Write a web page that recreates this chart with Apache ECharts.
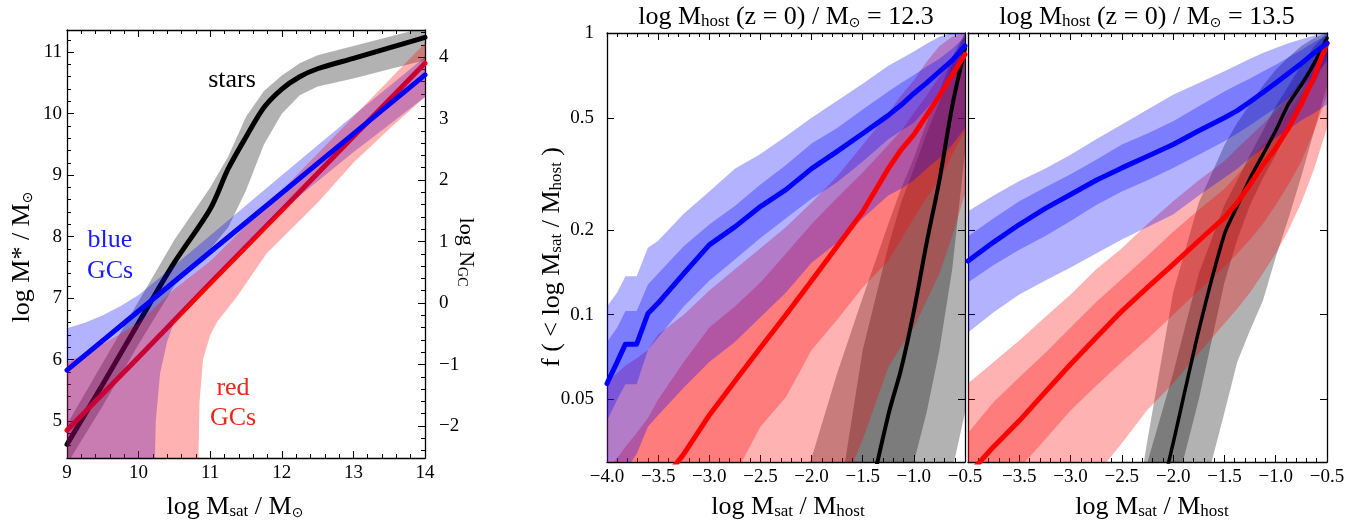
<!DOCTYPE html>
<html>
<head>
<meta charset="utf-8">
<script src="https://cdn.jsdelivr.net/npm/echarts@6.0.0/dist/echarts.min.js"></script>
<style>
html, body { margin: 0; padding: 0; background: #fff; }
#chart { width: 1364px; height: 524px; }
</style>
</head>
<body>
<div id="chart"></div>
<script>
// ---------- left panel : log M* (and log N_GC) vs log Msat ----------
const leftXTicks = [9, 10, 11, 12, 13, 14];
const mStarTicks = [5, 6, 7, 8, 9, 10, 11];
const nGcTicks = [-2, -1, 0, 1, 2, 3, 4];

const starsX   = [9, 9.5, 10, 10.5, 11, 11.25, 11.5, 11.75, 12, 12.25, 12.5, 13, 13.5, 14];
const starsMid = [4.62, 5.6, 6.6, 7.58, 8.45, 9.1, 9.62, 10.1, 10.4, 10.6, 10.73, 10.9, 11.07, 11.24];
const starsHi  = [4.95, 5.95, 6.95, 7.95, 8.8, 9.3, 9.95, 10.37, 10.62, 10.82, 10.95, 11.1, 11.25, 11.4];
const starsLo  = [4.3, 5.25, 6.25, 7.2, 7.8, 8.15, 8.75, 9.5, 10.0, 10.3, 10.44, 10.57, 10.72, 10.87];

const blueX   = [9, 10, 11, 12, 13, 14];
const blueMid = [5.83, 6.79, 7.75, 8.71, 9.67, 10.63];
const blueHiX = [9, 9.25, 9.5, 9.75, 10, 10.5, 11, 12, 13, 14];
const blueHi  = [6.51, 6.6, 6.72, 6.87, 7.05, 7.53, 8.02, 9.0, 9.97, 10.92];
const blueLoX = [9, 10.22, 10.24, 10.3, 10.4, 10.5, 10.7, 10.86, 11.5, 12, 12.5, 13, 13.5, 14];
const blueLo  = [4.0, 4.0, 5.0, 5.78, 6.3, 6.62, 6.9, 7.1, 7.85, 8.43, 8.9, 9.37, 9.82, 10.27];

const redX   = [9, 10, 11, 12, 13, 14];
const redMid = [4.85, 6.04, 7.24, 8.43, 9.63, 10.82];
const redHiX = [9, 9.5, 10, 10.5, 11, 12, 13, 14];
const redHi  = [5.95, 6.25, 6.6, 7.15, 7.6, 8.75, 9.95, 11.15];
const redLoX = [9, 10.83, 10.85, 10.9, 11.0, 11.1, 11.37, 11.79, 12.5, 13, 13.5, 14];
const redLo  = [4.0, 4.0, 5.3, 6.0, 6.4, 6.62, 7.02, 7.73, 8.55, 9.2, 9.75, 10.27];

// ---------- middle panel : log Mhost = 12.3 ----------
const ratioTicks = [-4.0, -3.5, -3.0, -2.5, -2.0, -1.5, -1.0, -0.5];
const ratioTicksRight = [-3.5, -3.0, -2.5, -2.0, -1.5, -1.0, -0.5];
const fTicks = [0.05, 0.1, 0.2, 0.5, 1];

const xM = [-4.0, -3.9, -3.82, -3.71, -3.6, -3.5, -3.25, -3.0, -2.75, -2.5, -2.25, -2.0, -1.75, -1.5, -1.25, -1.125, -1.0, -0.875, -0.75, -0.625, -0.5];
const blueLineM  = [0.057, 0.068, 0.0786, 0.0786, 0.101, 0.11, 0.14, 0.177, 0.205, 0.242, 0.278, 0.33, 0.38, 0.44, 0.51, 0.555, 0.61, 0.665, 0.73, 0.8, 0.9];
const blueOutHiM = [0.107, 0.12, 0.137, 0.137, 0.173, 0.183, 0.228, 0.274, 0.33, 0.372, 0.43, 0.5, 0.575, 0.66, 0.765, 0.81, 0.86, 0.915, 0.97, 1.0, 1.0];
const blueInHiM  = [0.08, 0.09, 0.103, 0.103, 0.128, 0.14, 0.175, 0.209, 0.243, 0.29, 0.34, 0.405, 0.46, 0.535, 0.62, 0.665, 0.71, 0.76, 0.81, 0.88, 0.97];
const blueInLoM  = [0.042, 0.05, 0.0566, 0.0566, 0.075, 0.083, 0.107, 0.132, 0.157, 0.187, 0.22, 0.258, 0.295, 0.35, 0.42, 0.45, 0.48, 0.54, 0.61, 0.69, 0.79];
const blueOutLoM = [0.022, 0.025, 0.028, 0.032, 0.04, 0.044, 0.055, 0.068, 0.08, 0.098, 0.12, 0.153, 0.18, 0.22, 0.265, 0.28, 0.3, 0.33, 0.36, 0.4, 0.46];
const redLineM   = [0.014, 0.0155, 0.017, 0.019, 0.021, 0.0245, 0.032, 0.044, 0.058, 0.0763, 0.1, 0.132, 0.175, 0.232, 0.33, 0.385, 0.436, 0.51, 0.6, 0.71, 0.84];
const redOutHiM  = [0.058, 0.062, 0.066, 0.07, 0.075, 0.085, 0.1, 0.122, 0.145, 0.172, 0.205, 0.25, 0.31, 0.4, 0.52, 0.6, 0.68, 0.79, 0.9, 0.97, 1.0];
const redInHiM   = [0.028, 0.031, 0.034, 0.038, 0.043, 0.05, 0.068, 0.09, 0.107, 0.13, 0.165, 0.21, 0.26, 0.32, 0.4, 0.45, 0.52, 0.6, 0.7, 0.82, 0.93];
const redInLoM   = [0.007, 0.0078, 0.0086, 0.0097, 0.011, 0.012, 0.016, 0.021, 0.027, 0.04, 0.051, 0.075, 0.096, 0.125, 0.155, 0.185, 0.22, 0.26, 0.3, 0.37, 0.45];
const redOutLoM  = [0.001, 0.001, 0.001, 0.001, 0.001, 0.001, 0.001, 0.001, 0.002, 0.003, 0.006, 0.012, 0.022, 0.036, 0.065, 0.077, 0.09, 0.112, 0.14, 0.19, 0.27];

const xGM = [-2.5, -2.25, -2.0, -1.75, -1.5, -1.25, -1.125, -1.0, -0.875, -0.75, -0.625, -0.5];
const starLineM   = [null, null, 0.0028, 0.005, 0.017, 0.044, 0.064, 0.103, 0.18, 0.3, 0.55, 0.88];
const grayOutHiM  = [0.009, 0.018, 0.031, 0.062, 0.115, 0.21, 0.28, 0.36, 0.48, 0.62, 0.82, 1.0];
const grayInHiM   = [0.003, 0.005, 0.008, 0.02, 0.075, 0.175, 0.25, 0.33, 0.44, 0.57, 0.78, 1.0];
const grayInLoM   = [0.0006, 0.0008, 0.001, 0.0015, 0.003, 0.012, 0.018, 0.03, 0.045, 0.075, 0.145, 0.38];
const grayOutLoM  = [0.0005, 0.0006, 0.0008, 0.001, 0.0015, 0.003, 0.004, 0.006, 0.009, 0.015, 0.028, 0.045];

// ---------- right panel : log Mhost = 13.5 ----------
const xR = [-4, -3.75, -3.5, -3.25, -3.0, -2.75, -2.5, -2.25, -2.0, -1.75, -1.5, -1.375, -1.25, -1.125, -1.0, -0.875, -0.75, -0.625, -0.5];
const blueLineR  = [0.155, 0.181, 0.209, 0.238, 0.267, 0.3, 0.332, 0.365, 0.402, 0.45, 0.5, 0.53, 0.57, 0.615, 0.665, 0.72, 0.78, 0.85, 0.92];
const blueOutHiR = [0.233, 0.265, 0.298, 0.33, 0.37, 0.42, 0.473, 0.535, 0.604, 0.665, 0.731, 0.77, 0.81, 0.85, 0.885, 0.92, 0.95, 0.98, 1.0];
const blueInHiR  = [0.19, 0.22, 0.253, 0.283, 0.315, 0.355, 0.402, 0.44, 0.486, 0.55, 0.62, 0.655, 0.69, 0.73, 0.772, 0.82, 0.87, 0.93, 0.98];
const blueInLoR  = [0.13, 0.15, 0.17, 0.19, 0.215, 0.245, 0.274, 0.3, 0.332, 0.37, 0.413, 0.44, 0.47, 0.505, 0.542, 0.59, 0.64, 0.71, 0.79];
const blueOutLoR = [0.0865, 0.102, 0.118, 0.132, 0.147, 0.165, 0.185, 0.205, 0.227, 0.265, 0.306, 0.33, 0.36, 0.39, 0.424, 0.455, 0.49, 0.52, 0.557];
const redLineR   = [0.027, 0.034, 0.042, 0.053, 0.0667, 0.083, 0.103, 0.125, 0.151, 0.183, 0.221, 0.25, 0.29, 0.34, 0.39, 0.46, 0.56, 0.7, 0.92];
const redOutHiR  = [0.057, 0.068, 0.081, 0.098, 0.118, 0.145, 0.172, 0.21, 0.253, 0.3, 0.351, 0.39, 0.43, 0.475, 0.527, 0.6, 0.68, 0.8, 0.96];
const redInHiR   = [0.038, 0.049, 0.06, 0.073, 0.09, 0.111, 0.134, 0.162, 0.197, 0.236, 0.28, 0.313, 0.353, 0.4, 0.452, 0.523, 0.614, 0.745, 0.94];
const redInLoR   = [0.0185, 0.023, 0.0285, 0.036, 0.0457, 0.056, 0.068, 0.082, 0.1, 0.122, 0.148, 0.165, 0.185, 0.21, 0.245, 0.29, 0.35, 0.45, 0.6];
const redOutLoR  = [0.008, 0.01, 0.012, 0.015, 0.02, 0.027, 0.035, 0.046, 0.057, 0.073, 0.093, 0.105, 0.12, 0.14, 0.165, 0.2, 0.25, 0.33, 0.46];

const xGR = [-2.5, -2.25, -2.0, -1.75, -1.5, -1.375, -1.25, -1.125, -1.0, -0.875, -0.75, -0.625, -0.5];
const starLineR  = [null, 0.0143, 0.035, 0.088, 0.193, 0.243, 0.305, 0.37, 0.45, 0.56, 0.655, 0.78, 0.96];
const grayOutHiR = [0.01, 0.036, 0.12, 0.25, 0.4, 0.48, 0.56, 0.65, 0.74, 0.82, 0.9, 0.96, 1.0];
const grayInHiR  = [0.01, 0.03, 0.062, 0.14, 0.245, 0.3, 0.37, 0.45, 0.55, 0.65, 0.77, 0.9, 1.0];
const grayInLoR  = [0.002, 0.007, 0.022, 0.05, 0.13, 0.185, 0.245, 0.305, 0.37, 0.46, 0.56, 0.66, 0.82];
const grayOutLoR = [0.001, 0.003, 0.008, 0.02, 0.045, 0.068, 0.088, 0.112, 0.16, 0.22, 0.31, 0.45, 0.65];

// ---------- styling ----------
const SERIF = '"Liberation Serif", "Times New Roman", serif';
const BLUE_A = 'rgba(0,0,255,0.3)';
const RED_A = 'rgba(255,0,0,0.3)';
const GRAY_A = 'rgba(0,0,0,0.3)';

const rich = {
  m: { fontFamily: SERIF, fontSize: 26, color: '#000' },
  s: { fontFamily: SERIF, fontSize: 17, color: '#000', verticalAlign: 'bottom' },
  o: { fontFamily: '"DejaVu Sans"', fontSize: 14, color: '#000', verticalAlign: 'bottom' },
  n: { fontFamily: SERIF, fontSize: 22, color: '#000' },
  t: { fontFamily: SERIF, fontSize: 14, color: '#000', verticalAlign: 'bottom' }
};

function pairs(xs, ys) { return xs.map((x, i) => [x, ys[i]]); }

function minus(v, digits) {
  const s = digits == null ? String(v) : Math.abs(v).toFixed(digits);
  if (digits == null) return s.replace('-', '\u2212');
  return (v < 0 ? '\u2212' : '') + s;
}

// filled band between a lower and an upper curve, drawn through the axes
function band(ax, ay, xsLo, lo, xsHi, hi, color, z) {
  return {
    type: 'custom', xAxisIndex: ax, yAxisIndex: ay, clip: true, silent: true, z: z,
    data: pairs(xsHi, hi),
    encode: { x: 0, y: 1 },
    renderItem: function (params, api) {
      if (params.dataIndex !== 0) return null;
      const pts = [];
      for (let i = 0; i < xsHi.length; i++) pts.push(api.coord([xsHi[i], hi[i]]));
      for (let i = xsLo.length - 1; i >= 0; i--) pts.push(api.coord([xsLo[i], lo[i]]));
      return { type: 'polygon', shape: { points: pts }, style: { fill: color } };
    }
  };
}

function curve(ax, ay, xs, ys, color, width, z, smooth) {
  return {
    type: 'line', xAxisIndex: ax, yAxisIndex: ay, data: pairs(xs, ys),
    symbol: 'none', smooth: smooth || false, silent: true, z: z, clip: true,
    lineStyle: { color: color, width: width, cap: 'round', join: 'round' }
  };
}

const axLine = { onZero: false, lineStyle: { color: '#000', width: 1.3 } };
const tickLabel = { fontFamily: SERIF, fontSize: 19, color: '#000' };

function xPair(grid, min, max, interval, labels, fmt) {
  const base = {
    type: 'value', gridIndex: grid, min: min, max: max, interval: interval,
    axisLine: axLine, splitLine: { show: false },
    axisTick: { inside: true, length: 7, lineStyle: { color: '#000' } },
    minorTick: { show: true, splitNumber: 5, length: 4, lineStyle: { color: '#000' } }
  };
  return [
    Object.assign({}, base, { position: 'bottom',
      axisLabel: Object.assign({}, tickLabel, { margin: 6, customValues: labels, formatter: fmt }) }),
    Object.assign({}, base, { position: 'top', axisLabel: { show: false } })
  ];
}

function logY(grid, pos, labels) {
  return {
    type: 'log', gridIndex: grid, position: pos, min: 0.03, max: 1, logBase: 10,
    axisLine: axLine, splitLine: { show: false }, minorTick: { show: false },
    axisTick: { inside: true, length: 7, customValues: fTicks, lineStyle: { color: '#000' } },
    axisLabel: labels ? Object.assign({}, tickLabel, { margin: 13, customValues: fTicks,
      formatter: v => String(parseFloat(Number(v).toPrecision(3))) }) : { show: false }
  };
}

const mMinor = [];
for (let k = 23; k <= 56; k++) mMinor.push(k / 5);
const nMinor = [];
for (let k = -12; k <= 22; k++) nMinor.push(k / 5);

const xAxis = []
  .concat(xPair(0, 9, 14, 1, leftXTicks, v => String(v)))
  .concat(xPair(1, -4, -0.5, 0.5, ratioTicks, v => minus(v, 1)))
  .concat(xPair(2, -4, -0.5, 0.5, ratioTicksRight, v => minus(v, 1)));

const yAxis = [
  { type: 'value', gridIndex: 0, position: 'left', min: 4.4, max: 11.36,
    axisLine: axLine, splitLine: { show: false },
    axisTick: { inside: true, length: 7, customValues: mStarTicks, lineStyle: { color: '#000' } },
    axisLabel: Object.assign({}, tickLabel, { margin: 5, customValues: mStarTicks }) },
  { type: 'value', gridIndex: 0, position: 'left', min: 4.4, max: 11.36,
    axisLine: { show: false }, splitLine: { show: false }, axisLabel: { show: false },
    axisTick: { inside: true, length: 4, customValues: mMinor, lineStyle: { color: '#000' } } },
  { type: 'value', gridIndex: 0, position: 'right', min: -2.52, max: 4.44,
    axisLine: axLine, splitLine: { show: false },
    axisTick: { inside: true, length: 7, customValues: nGcTicks, lineStyle: { color: '#000' } },
    axisLabel: Object.assign({}, tickLabel, { margin: 14, customValues: nGcTicks, formatter: v => minus(v) }) },
  { type: 'value', gridIndex: 0, position: 'right', min: -2.52, max: 4.44,
    axisLine: { show: false }, splitLine: { show: false }, axisLabel: { show: false },
    axisTick: { inside: true, length: 4, customValues: nMinor, lineStyle: { color: '#000' } } },
  logY(1, 'left', true),
  logY(1, 'right', false),
  logY(2, 'left', false),
  logY(2, 'right', false)
];

const series = [
  // left panel
  band(0, 0, starsX, starsLo, starsX, starsHi, GRAY_A, 1),
  curve(0, 0, starsX, starsMid, '#000', 5, 2, 0.3),
  curve(0, 0, redX, redMid, '#ff0000', 5, 3),
  band(0, 0, blueLoX, blueLo, blueHiX, blueHi, BLUE_A, 4),
  band(0, 0, redLoX, redLo, redHiX, redHi, RED_A, 5),
  curve(0, 0, blueX, blueMid, '#0000ff', 5, 6),
  // middle panel
  band(2, 4, xGM, grayOutLoM, xGM, grayOutHiM, GRAY_A, 1),
  band(2, 4, xGM, grayInLoM, xGM, grayInHiM, GRAY_A, 1),
  band(2, 4, xM, redOutLoM, xM, redOutHiM, RED_A, 2),
  band(2, 4, xM, redInLoM, xM, redInHiM, RED_A, 2),
  band(2, 4, xM, blueOutLoM, xM, blueOutHiM, BLUE_A, 3),
  band(2, 4, xM, blueInLoM, xM, blueInHiM, BLUE_A, 3),
  curve(2, 4, xGM, starLineM, '#000', 4, 4, 0.3),
  curve(2, 4, xM, redLineM, '#ff0000', 5, 5),
  curve(2, 4, xM, blueLineM, '#0000ff', 5, 6),
  // right panel
  band(4, 6, xGR, grayOutLoR, xGR, grayOutHiR, GRAY_A, 1),
  band(4, 6, xGR, grayInLoR, xGR, grayInHiR, GRAY_A, 1),
  band(4, 6, xR, redOutLoR, xR, redOutHiR, RED_A, 2),
  band(4, 6, xR, redInLoR, xR, redInHiR, RED_A, 2),
  band(4, 6, xR, blueOutLoR, xR, blueOutHiR, BLUE_A, 3),
  band(4, 6, xR, blueInLoR, xR, blueInHiR, BLUE_A, 3),
  curve(4, 6, xGR, starLineR, '#000', 3.5, 4, 0.2),
  curve(4, 6, xR, redLineR, '#ff0000', 5, 5),
  curve(4, 6, xR, blueLineR, '#0000ff', 5, 6)
];

function label(x, y, text, extra) {
  return Object.assign({ type: 'text', x: x, y: y, silent: true, z: 100,
    style: { text: text, rich: rich, align: 'center', verticalAlign: 'middle' } }, extra || {});
}

const graphic = [
  label(786, 17, '{m|log M}{s|host}{m| (z = 0) / M}{o|\u2299}{m| = 12.3}'),
  label(1147, 17, '{m|log M}{s|host}{m| (z = 0) / M}{o|\u2299}{m| = 13.5}'),
  label(235, 507, '{m|log M}{s|sat}{m| / M}{o|\u2299}'),
  label(788, 507, '{m|log M}{s|sat}{m| / M}{s|host}'),
  label(1152, 507, '{m|log M}{s|sat}{m| / M}{s|host}'),
  label(22, 257, '{m|log M* / M}{o|\u2299}', { rotation: Math.PI / 2 }),
  label(466, 252, '{n|log N}{t|GC}', { rotation: -Math.PI / 2 }),
  label(552, 257, '{m|f ( < log M}{s|sat}{m| / M}{s|host}{m| )}', { rotation: Math.PI / 2 }),
  { type: 'text', x: 232, y: 80, z: 100, silent: true,
    style: { text: 'stars', font: '26px ' + SERIF, fill: '#000', align: 'center', verticalAlign: 'middle' } },
  { type: 'text', x: 110, y: 256, z: 100, silent: true,
    style: { text: 'blue\nGCs', font: '26px ' + SERIF, fill: '#1a1aff', lineHeight: 31, align: 'center', verticalAlign: 'middle' } },
  { type: 'text', x: 233, y: 403, z: 100, silent: true,
    style: { text: 'red\nGCs', font: '26px ' + SERIF, fill: '#e8281a', lineHeight: 30, align: 'center', verticalAlign: 'middle' } }
];

const option = {
  animation: false,
  backgroundColor: '#fff',
  grid: [
    { left: 67, top: 30, width: 358, height: 428, outerBoundsMode: 'none' },
    { left: 607, top: 33, width: 358, height: 429, outerBoundsMode: 'none' },
    { left: 968, top: 33, width: 359, height: 429, outerBoundsMode: 'none' }
  ],
  xAxis: xAxis,
  yAxis: yAxis,
  series: series,
  graphic: graphic
};

const chart = echarts.init(document.getElementById('chart'), null, { renderer: 'canvas' });
chart.setOption(option);
</script>
</body>
</html>
